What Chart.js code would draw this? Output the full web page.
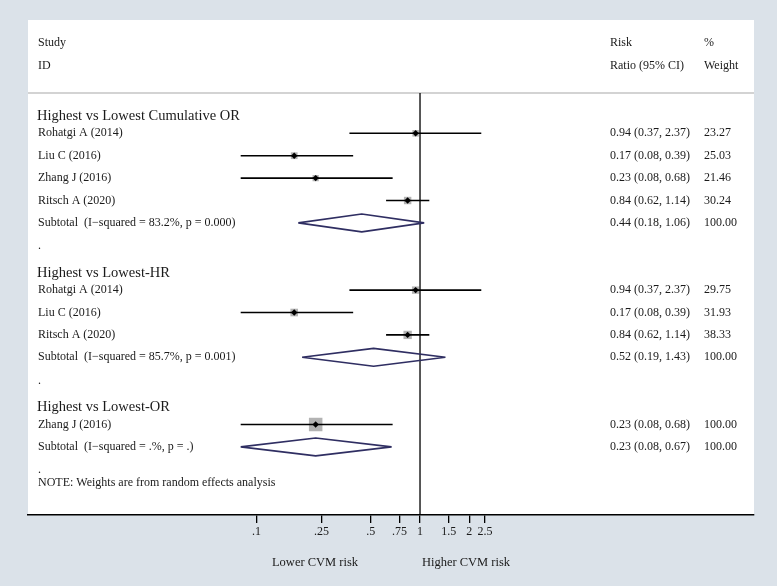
<!DOCTYPE html>
<html>
<head>
<meta charset="utf-8">
<script src="https://cdn.jsdelivr.net/npm/chart.js@4.4.1/dist/chart.umd.min.js"></script>
<style>
  html, body { margin: 0; padding: 0; background: #dbe2e9; }
  #wrap { width: 777px; height: 586px; }
</style>
</head>
<body>
<div id="wrap"><canvas id="forest" width="777" height="586"></canvas></div>
<script>
// groups of the meta-analysis
const groupTitles = ["Highest vs Lowest Cumulative OR", "Highest vs Lowest-HR", "Highest vs Lowest-OR"];

// single studies
const studyNames = ["Rohatgi A (2014)", "Liu C (2016)", "Zhang J (2016)", "Ritsch A (2020)",
                    "Rohatgi A (2014)", "Liu C (2016)", "Ritsch A (2020)",
                    "Zhang J (2016)"];
const studyGroup = [0, 0, 0, 0, 1, 1, 1, 2];
const studyRR = [0.94, 0.17, 0.23, 0.84, 0.94, 0.17, 0.84, 0.23];
const studyLo = [0.37, 0.08, 0.08, 0.62, 0.37, 0.08, 0.62, 0.08];
const studyHi = [2.37, 0.39, 0.68, 1.14, 2.37, 0.39, 1.14, 0.68];
const studyWeight = [23.27, 25.03, 21.46, 30.24, 29.75, 31.93, 38.33, 100.00];

// pooled estimates, one per group
const subtotalLabels = ["Subtotal  (I\u2212squared = 83.2%, p = 0.000)",
                        "Subtotal  (I\u2212squared = 85.7%, p = 0.001)",
                        "Subtotal  (I\u2212squared = .%, p = .)"];
const subtotalRR = [0.44, 0.52, 0.23];
const subtotalLo = [0.18, 0.19, 0.08];
const subtotalHi = [1.06, 1.43, 0.67];
const subtotalWeight = [100.00, 100.00, 100.00];

// x axis
const tickValues = [0.1, 0.25, 0.5, 0.75, 1, 1.5, 2, 2.5];
const tickLabels = [".1", ".25", ".5", ".75", "1", "1.5", "2", "2.5"];

const serif = "'Liberation Serif', 'Times New Roman', serif";
const ink = "#1a1a1a";
const navy = "#2f2e62";

// work out the row of every line of the table
const groupRow = [], studyRow = [], subtotalRow = [], spacerRow = [];
let r = 0;
groupTitles.forEach((g, gi) => {
    groupRow.push(r++);
    studyGroup.forEach((sg, si) => { if (sg === gi) studyRow[si] = r++; });
    subtotalRow.push(r++);
    spacerRow.push(r++);
});

const fmt = (rr, lo, hi) => `${rr.toFixed(2)} (${lo.toFixed(2)}, ${hi.toFixed(2)})`;

const datasets = [];

// point estimates (order 0 = drawn last, on top)
datasets.push({
    order: 0,
    data: studyNames.map((n, i) => ({ x: studyRR[i], y: studyRow[i] })),
    pointStyle: "rectRot", pointRadius: 3.2,
    backgroundColor: "#000", borderWidth: 0
});

// confidence intervals
studyNames.forEach((n, i) => {
    datasets.push({
        order: 1,
        data: [{ x: studyLo[i], y: studyRow[i] }, { x: studyHi[i], y: studyRow[i] }],
        showLine: true, borderColor: "#000", borderWidth: 1.6, pointRadius: 0
    });
});

// weight boxes
datasets.push({
    order: 2,
    data: studyNames.map((n, i) => ({ x: studyRR[i], y: studyRow[i] })),
    pointStyle: "rect",
    pointRadius: studyWeight.map(w => 13.5 * Math.sqrt(w / 100) / Math.SQRT2),
    backgroundColor: "#b3b3b3", borderWidth: 0
});

// pooled diamonds
subtotalRR.forEach((rr, i) => {
    const y = subtotalRow[i];
    datasets.push({
        order: 1,
        data: [{ x: subtotalLo[i], y: y }, { x: rr, y: y - 0.4 }, { x: subtotalHi[i], y: y },
               { x: rr, y: y + 0.4 }, { x: subtotalLo[i], y: y }],
        showLine: true, borderColor: navy, borderWidth: 1.6, pointRadius: 0,
        borderJoinStyle: "bevel", tension: 0, fill: false
    });
});

// null line at 1
datasets.push({
    order: 1,
    data: [{ x: 1, y: -5 }, { x: 1, y: 30 }],
    showLine: true, borderColor: "#000", borderWidth: 1.3, pointRadius: 0
});

const panel = {
    id: "panel",
    beforeDraw(chart) {
        const { ctx, chartArea } = chart;
        ctx.save();
        ctx.fillStyle = "#dbe2e9";
        ctx.fillRect(0, 0, chart.width, chart.height);
        ctx.fillStyle = "#fff";
        ctx.fillRect(chartArea.left, 20, chartArea.right - chartArea.left, chartArea.bottom - 20);
        // line under the header
        ctx.strokeStyle = "#c4c4c4";
        ctx.lineWidth = 1.6;
        ctx.beginPath();
        ctx.moveTo(chartArea.left, chartArea.top);
        ctx.lineTo(chartArea.right, chartArea.top);
        ctx.stroke();
        ctx.restore();
    },
    afterDraw(chart) {
        const { ctx } = chart;
        const xs = chart.scales.x, ys = chart.scales.y;
        const py = row => ys.getPixelForValue(row);
        ctx.save();
        ctx.fillStyle = ink;
        ctx.textBaseline = "middle";
        ctx.textAlign = "left";
        ctx.font = "12px " + serif;

        ctx.fillText("Study", 38, 43);
        ctx.fillText("ID", 38, 66);
        ctx.fillText("Risk", 610, 43);
        ctx.fillText("Ratio (95% CI)", 610, 66);
        ctx.fillText("%", 704, 43);
        ctx.fillText("Weight", 704, 66);

        studyNames.forEach((n, i) => {
            const y = py(studyRow[i]);
            ctx.fillText(n, 38, y);
            ctx.fillText(fmt(studyRR[i], studyLo[i], studyHi[i]), 610, y);
            ctx.fillText(studyWeight[i].toFixed(2), 704, y);
        });
        subtotalLabels.forEach((s, i) => {
            const y = py(subtotalRow[i]);
            ctx.fillText(s, 38, y);
            ctx.fillText(fmt(subtotalRR[i], subtotalLo[i], subtotalHi[i]), 610, y);
            ctx.fillText(subtotalWeight[i].toFixed(2), 704, y);
        });
        spacerRow.forEach(rw => ctx.fillText(".", 38, py(rw) + 1));
        ctx.fillText("NOTE: Weights are from random effects analysis", 38, py(spacerRow[spacerRow.length - 1]) + 14);

        ctx.font = "14.5px " + serif;
        groupTitles.forEach((g, i) => ctx.fillText(g, 37, py(groupRow[i]) + 5));

        // labels under the axis
        ctx.font = "12.5px " + serif;
        ctx.textAlign = "center";
        const x1 = xs.getPixelForValue(1);
        ctx.fillText("Lower CVM risk", x1 - 105, 563);
        ctx.fillText("Higher CVM risk", x1 + 46, 563);
        ctx.restore();
    }
};

new Chart(document.getElementById("forest"), {
    type: "scatter",
    data: { datasets: datasets },
    options: {
        responsive: false,
        animation: false,
        events: [],
        layout: { padding: { left: 28, right: 23, top: 93, bottom: 41 } },
        plugins: { legend: { display: false }, tooltip: { enabled: false } },
        scales: {
            x: {
                type: "logarithmic",
                min: 0.004,
                max: 110.4,
                afterBuildTicks: axis => { axis.ticks = tickValues.map(v => ({ value: v })); },
                afterFit: axis => { axis.height = 30; },
                ticks: {
                    autoSkip: false, maxRotation: 0, padding: 2,
                    color: ink, font: { family: serif, size: 12 },
                    callback: (v, i) => tickLabels[i]
                },
                grid: { drawOnChartArea: false, tickLength: 8, color: "#000", lineWidth: 1.3 },
                border: { color: "#000", width: 1.6 }
            },
            y: {
                type: "linear",
                display: false,
                reverse: true,
                min: -0.8,
                max: 18.04
            }
        }
    },
    plugins: [panel]
});
</script>
</body>
</html>
